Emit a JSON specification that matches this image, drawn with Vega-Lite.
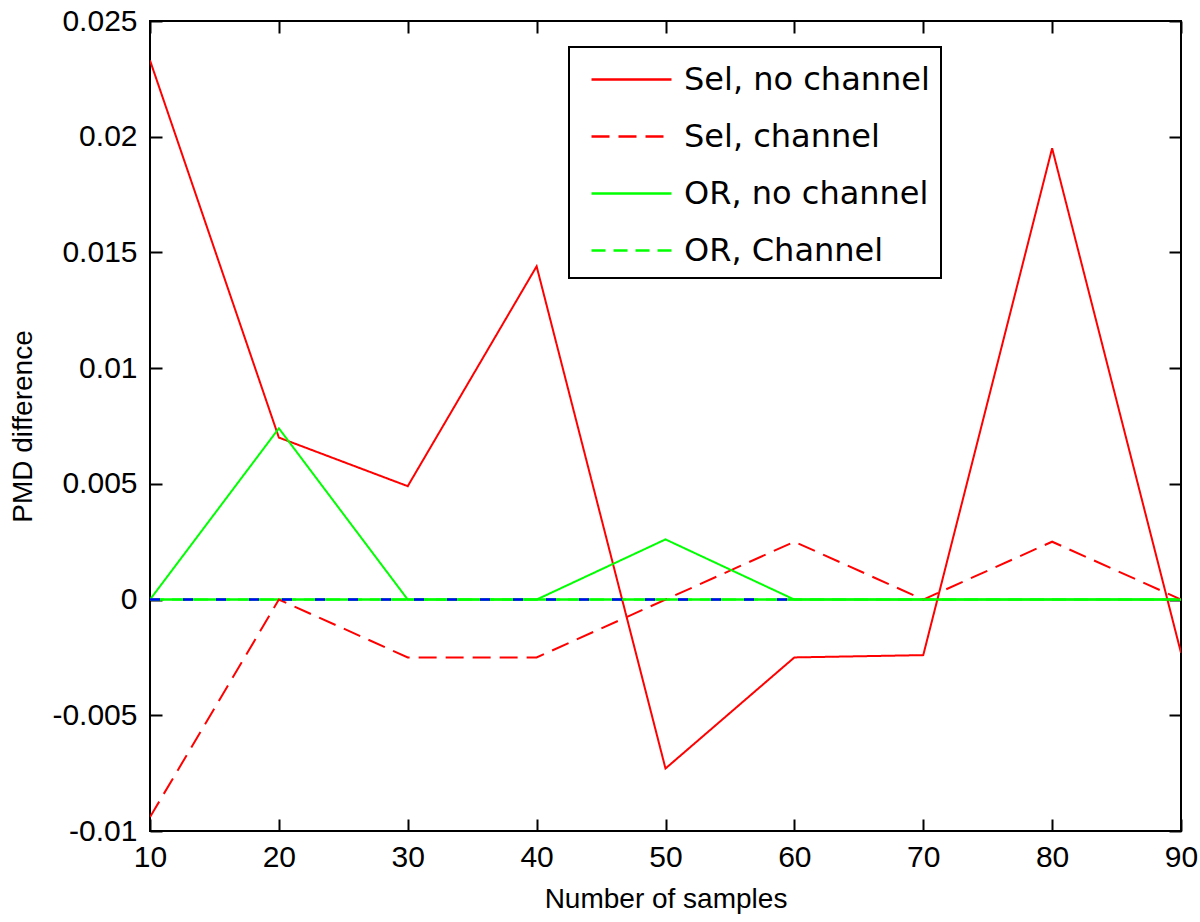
{
  "$schema": "https://vega.github.io/schema/vega-lite/v6.json",
  "width": 1031,
  "height": 810,
  "autosize": "none",
  "padding": {"left": 150, "top": 21, "right": 19, "bottom": 91},
  "background": "white",
  "config": {
    "view": {"stroke": "black", "strokeWidth": 2},
    "axis": {
      "domain": false,
      "grid": false,
      "labelFlush": false,
      "tickColor": "black",
      "tickWidth": 2,
      "tickSize": -12,
      "labelFont": "Liberation Sans",
      "labelFontSize": 30,
      "labelColor": "black",
      "titleFont": "Liberation Sans",
      "titleFontSize": 28,
      "titleFontWeight": "normal",
      "titleColor": "black"
    }
  },
  "datasets": {
    "main": [
      {"series": "Sel, no channel", "n": 10, "v": 0.0233},
      {"series": "Sel, no channel", "n": 20, "v": 0.0070},
      {"series": "Sel, no channel", "n": 30, "v": 0.0049},
      {"series": "Sel, no channel", "n": 40, "v": 0.0144},
      {"series": "Sel, no channel", "n": 50, "v": -0.0073},
      {"series": "Sel, no channel", "n": 60, "v": -0.0025},
      {"series": "Sel, no channel", "n": 70, "v": -0.0024},
      {"series": "Sel, no channel", "n": 80, "v": 0.0195},
      {"series": "Sel, no channel", "n": 90, "v": -0.0023},
      {"series": "Sel, channel", "n": 10, "v": -0.0094},
      {"series": "Sel, channel", "n": 20, "v": 0},
      {"series": "Sel, channel", "n": 30, "v": -0.0025},
      {"series": "Sel, channel", "n": 40, "v": -0.0025},
      {"series": "Sel, channel", "n": 50, "v": 0},
      {"series": "Sel, channel", "n": 60, "v": 0.0025},
      {"series": "Sel, channel", "n": 70, "v": 0},
      {"series": "Sel, channel", "n": 80, "v": 0.0025},
      {"series": "Sel, channel", "n": 90, "v": 0},
      {"series": "OR, no channel", "n": 10, "v": 0},
      {"series": "OR, no channel", "n": 20, "v": 0.0074},
      {"series": "OR, no channel", "n": 30, "v": 0},
      {"series": "OR, no channel", "n": 40, "v": 0},
      {"series": "OR, no channel", "n": 50, "v": 0.0026},
      {"series": "OR, no channel", "n": 60, "v": 0},
      {"series": "OR, no channel", "n": 70, "v": 0},
      {"series": "OR, no channel", "n": 80, "v": 0},
      {"series": "OR, no channel", "n": 90, "v": 0},
      {"series": "OR, Channel", "n": 10, "v": 0},
      {"series": "OR, Channel", "n": 20, "v": 0},
      {"series": "OR, Channel", "n": 30, "v": 0},
      {"series": "OR, Channel", "n": 40, "v": 0},
      {"series": "OR, Channel", "n": 50, "v": 0},
      {"series": "OR, Channel", "n": 60, "v": 0},
      {"series": "OR, Channel", "n": 70, "v": 0},
      {"series": "OR, Channel", "n": 80, "v": 0},
      {"series": "OR, Channel", "n": 90, "v": 0}
    ],
    "overlay": [
      {"line": "green", "n": 10, "v": 0},
      {"line": "green", "n": 90, "v": 0},
      {"line": "blue", "n": 10, "v": 0},
      {"line": "blue", "n": 60, "v": 0}
    ]
  },
  "layer": [
    {
      "data": {"name": "overlay"},
      "transform": [{"filter": "datum.line == 'green'"}],
      "mark": {"type": "line", "strokeWidth": 2.5, "color": "#00ff00"},
      "encoding": {
        "x": {"field": "n", "type": "quantitative", "scale": {"domain": [10, 90], "nice": false},
              "axis": {"orient": "top", "values": [10, 20, 30, 40, 50, 60, 70, 80, 90], "labels": false, "title": null}},
        "y": {"field": "v", "type": "quantitative", "scale": {"domain": [-0.01, 0.025], "nice": false, "zero": false},
              "axis": {"orient": "right", "values": [-0.01, -0.005, 0, 0.005, 0.01, 0.015, 0.02, 0.025], "labels": false, "title": null}}
      }
    },
    {
      "data": {"name": "main"},
      "mark": {"type": "line", "strokeWidth": 2, "clip": true},
      "encoding": {
        "x": {"field": "n", "type": "quantitative",
              "axis": {"orient": "bottom", "values": [10, 20, 30, 40, 50, 60, 70, 80, 90], "title": "Number of samples", "labelPadding": 23, "titlePadding": 13}},
        "y": {"field": "v", "type": "quantitative",
              "axis": {"orient": "left", "values": [-0.01, -0.005, 0, 0.005, 0.01, 0.015, 0.02, 0.025], "labelExpr": "'' + datum.value", "title": "PMD difference", "labelPadding": 25, "titlePadding": 14}},
        "color": {
          "field": "series", "type": "nominal",
          "scale": {"domain": ["Sel, no channel", "Sel, channel", "OR, no channel", "OR, Channel"], "range": ["#ff0000", "#ff0000", "#00ff00", "#00ff00"]},
          "legend": {
            "title": null,
            "orient": "none",
            "legendX": 419,
            "legendY": 26,
            "direction": "vertical",
            "strokeColor": "black",
            "fillColor": "white",
            "padding": 11,
            "rowPadding": 19,
            "symbolType": "M-2,0H2",
            "symbolSize": 1600,
            "symbolStrokeWidth": 2.5,
            "symbolOffset": 30,
            "labelOffset": 31,
            "labelLimit": 500,
            "labelFont": "DejaVu Sans",
            "labelFontSize": 32,
            "labelColor": "black",
            "labelExpr": "datum.label + '\u00a0\u00a0\u00a0'",
            "encode": {
              "legend": {"update": {"strokeWidth": {"value": 2}}}
            }
          }
        },
        "strokeDash": {
          "field": "series", "type": "nominal",
          "scale": {"domain": ["Sel, no channel", "Sel, channel", "OR, no channel", "OR, Channel"], "range": [[1, 0], [18, 9], [1, 0], [14, 8]]},
          "legend": null
        }
      }
    },
    {
      "data": {"name": "overlay"},
      "transform": [{"filter": "datum.line == 'blue'"}],
      "mark": {"type": "line", "strokeWidth": 2.5, "color": "#0000ff", "strokeDash": [10, 23]},
      "encoding": {
        "x": {"field": "n", "type": "quantitative", "axis": null},
        "y": {"field": "v", "type": "quantitative", "axis": null}
      }
    }
  ],
  "resolve": {"axis": {"x": "independent", "y": "independent"}}
}
